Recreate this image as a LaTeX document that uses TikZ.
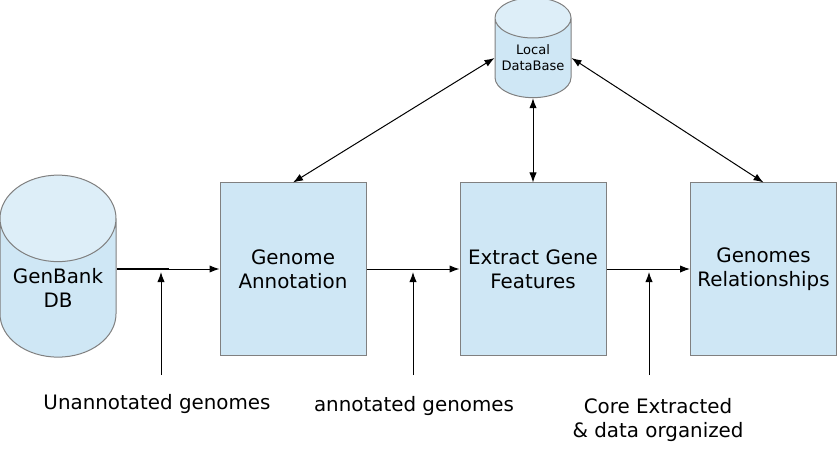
\documentclass[tikz,border=0pt]{standalone}
\usepackage{fontspec}
\setmainfont{DejaVu Sans}
\usetikzlibrary{arrows.meta, shapes.geometric}
\definecolor{box-fill}{HTML}{CFE7F5}
\definecolor{cap-fill}{HTML}{DDEEF8}
\definecolor{box-border}{HTML}{808080}
\tikzset{
  proc-box/.style={
    draw=box-border, fill=box-fill, line width=0.75pt,
    minimum width=109.5pt, minimum height=129pt, inner sep=0pt,
    align=center, font=\fontsize{14.9}{18}\selectfont
  },
  db-cyl/.style={
    cylinder, shape border rotate=90, draw=box-border, line width=0.75pt,
    cylinder uses custom fill, cylinder body fill=box-fill, cylinder end fill=cap-fill,
    inner sep=0pt, align=center
  },
  flow-edge/.style={-{Latex[length=7.5pt, width=5.5pt]}, line width=0.75pt},
  link-edge/.style={{Latex[length=7.5pt, width=5.5pt]}-{Latex[length=7.5pt, width=5.5pt]}, line width=0.75pt},
  note/.style={align=center, font=\fontsize{14.9}{18}\selectfont}
}
\begin{document}
\begin{tikzpicture}[x=0.75pt, y=-0.75pt]
  \useasboundingbox (0,0) rectangle (837,463);

  % data stores
  \node[db-cyl, aspect=0.96, minimum width=87pt, minimum height=136.5pt,
    font=\fontsize{14.9}{18}\selectfont] (genbank) at (58,288) {GenBank\\DB};
  \node[db-cyl, aspect=0.64, minimum width=57pt, minimum height=75pt,
    font=\fontsize{9.8}{12}\selectfont] (localdb) at (533,58) {Local\\DataBase};

  % processing steps
  \node[proc-box] (annot) at (293,269) {Genome\\Annotation};
  \node[proc-box] (extract) at (533,269) {Extract Gene\\Features};
  \node[proc-box] (relat) at (763.5,269) {Genomes\\Relationships};

  % main flow
  \draw[line width=1.6pt] (genbank.east |- annot.west) -- ++(52,0);
  \draw[flow-edge] (genbank.east |- annot.west) -- (annot.west);
  \draw[flow-edge] (annot.east) -- (extract.west);
  \draw[flow-edge] (extract.east) -- (relat.west);

  % links to the local database
  \draw[link-edge] (annot.north) -- (localdb.west);
  \draw[link-edge] (extract.north) -- (localdb.south);
  \draw[link-edge] (relat.north) -- (localdb.east);

  % inputs from below
  \node[note] (lbl1) at (157,404) {Unannotated genomes};
  \node[note] (lbl2) at (414,406) {annotated genomes};
  \node[note] (lbl3) at (658,420) {Core Extracted\\\& data organized};
  \coordinate (src1) at (161,375);
  \coordinate (tip1) at (161,272);
  \coordinate (src2) at (413,375);
  \coordinate (tip2) at (413,272);
  \coordinate (src3) at (649,375);
  \coordinate (tip3) at (649,272);
  \draw[flow-edge] (src1) -- (tip1);
  \draw[flow-edge] (src2) -- (tip2);
  \draw[flow-edge] (src3) -- (tip3);
\end{tikzpicture}
\end{document}
